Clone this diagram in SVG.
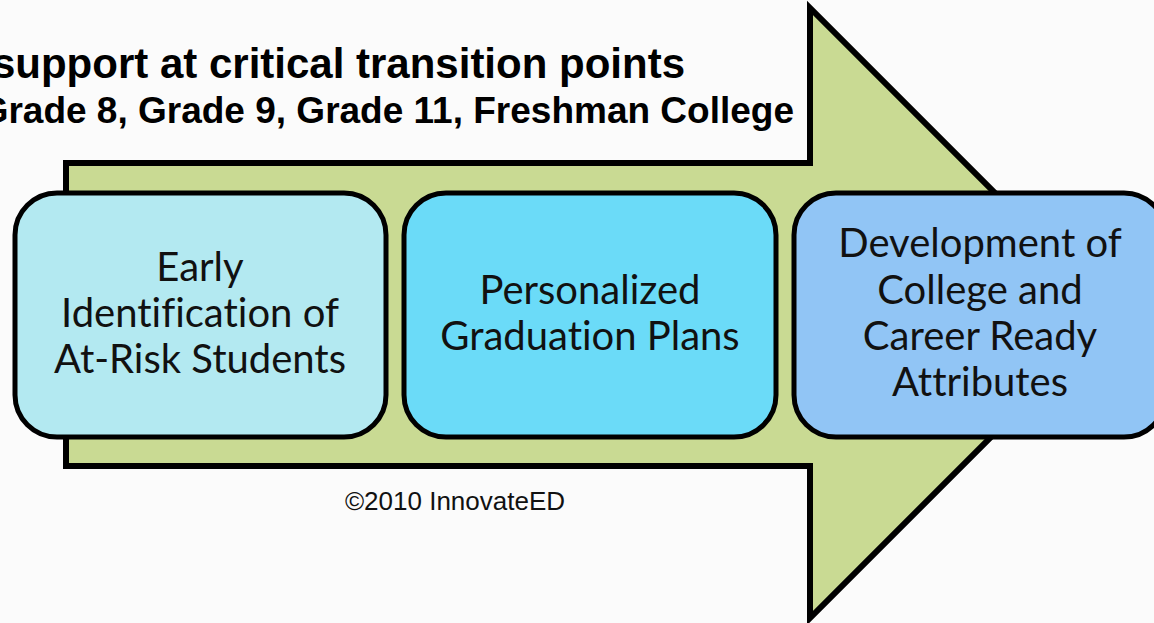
<svg xmlns="http://www.w3.org/2000/svg" width="1154" height="623" viewBox="0 0 1154 623">
  <style>
    .title { font-family: "Liberation Sans", Arial, sans-serif; font-weight: bold; fill: #000; }
    .box { stroke: #000; stroke-width: 5; }
    .label { font-family: Lato, "Open Sans", sans-serif; font-size: 40px; fill: #111; text-anchor: middle; font-variant-ligatures: none; }
    .credit { font-family: "Liberation Sans", Arial, sans-serif; font-size: 26px; fill: #111; text-anchor: middle; }
  </style>
  <rect x="0" y="0" width="1154" height="623" fill="#fbfbfb"/>

  <!-- headings -->
  <text class="title" x="685" y="78" font-size="42" text-anchor="end">support at critical transition points</text>
  <text class="title" x="794" y="123" font-size="37" text-anchor="end">Grade 8, Grade 9, Grade 11, Freshman College</text>

  <!-- large block arrow behind the steps -->
  <g id="connectors">
    <path d="M66,163 H810 V8 L1115,313 L810,618 V466 H66 Z" fill="#c9da93" stroke="#000" stroke-width="6" stroke-linejoin="miter"/>
  </g>

  <g id="step1">
    <rect class="box" x="15" y="193" width="371" height="244" rx="42" fill="#b3e9f1"/>
    <text class="label" x="200" y="281">Early</text>
    <text class="label" x="200" y="327">Identification of</text>
    <text class="label" x="200" y="373">At-Risk Students</text>
  </g>

  <g id="step2">
    <rect class="box" x="404" y="193" width="372" height="244" rx="42" fill="#6bdbf8"/>
    <text class="label" x="590" y="304">Personalized</text>
    <text class="label" x="590" y="350">Graduation Plans</text>
  </g>

  <g id="step3">
    <rect class="box" x="794" y="193" width="372" height="244" rx="42" fill="#91c5f5"/>
    <text class="label" x="980" y="257">Development of</text>
    <text class="label" x="980" y="304">College and</text>
    <text class="label" x="980" y="350">Career Ready</text>
    <text class="label" x="980" y="396">Attributes</text>
  </g>

  <text class="credit" x="455" y="510">©2010 InnovateED</text>
</svg>
